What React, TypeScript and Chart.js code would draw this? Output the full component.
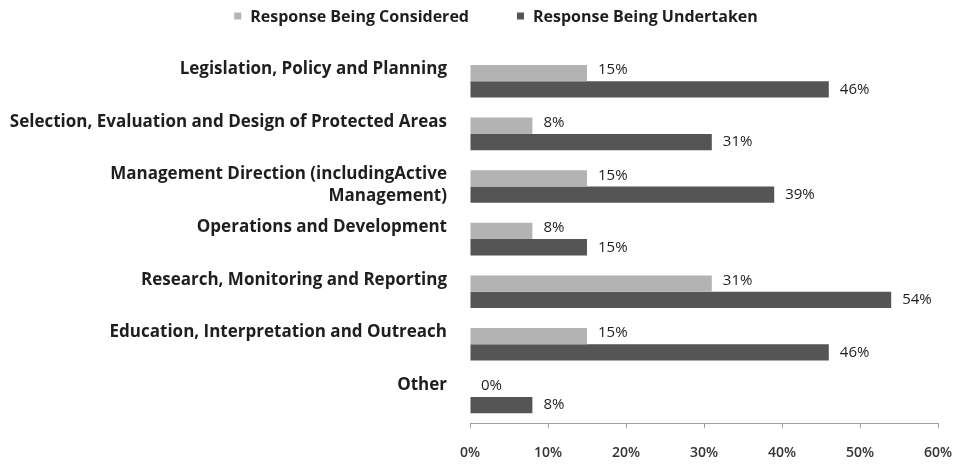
import React, { useEffect, useRef } from "react";
import { Chart, registerables } from "chart.js";

Chart.register(...registerables);

const categories: string[][] = [
  ["Legislation, Policy and Planning"],
  ["Selection, Evaluation and Design of Protected Areas"],
  ["Management Direction (includingActive", "Management)"],
  ["Operations and Development"],
  ["Research, Monitoring and Reporting"],
  ["Education, Interpretation and Outreach"],
  ["Other"],
];

const consideredValues = [15, 8, 15, 8, 31, 15, 0];
const undertakenValues = [46, 31, 39, 15, 54, 46, 8];

const seriesNames = ["Response Being Considered", "Response Being Undertaken"];
const xTicks = [0, 10, 20, 30, 40, 50, 60];

const LIGHT = "#b3b3b3";
const DARK = "#555555";
const TEXT = "#1e1e1e";
const FONT = "'Open Sans', sans-serif";

// Category names drawn to the left of the plot, first line aligned with the upper bar
const categoryLabelsPlugin = {
  id: "categoryLabels",
  afterDraw(chart: any) {
    const { ctx, chartArea, scales } = chart;
    const y = scales.y;
    ctx.save();
    ctx.font = `700 17px ${FONT}`;
    ctx.fillStyle = TEXT;
    ctx.textAlign = "right";
    ctx.textBaseline = "middle";
    categories.forEach((lines, i) => {
      const cy = y.getPixelForValue(i);
      lines.forEach((line, j) => {
        ctx.fillText(line, chartArea.left - 23, cy - 12 + j * 22);
      });
    });
    ctx.restore();
  },
};

// Value labels just past the end of each bar
const valueLabelsPlugin = {
  id: "valueLabels",
  afterDatasetsDraw(chart: any) {
    const { ctx } = chart;
    ctx.save();
    ctx.font = `400 15px ${FONT}`;
    ctx.fillStyle = TEXT;
    ctx.textAlign = "left";
    ctx.textBaseline = "middle";
    chart.data.datasets.forEach((ds: any, di: number) => {
      const meta = chart.getDatasetMeta(di);
      meta.data.forEach((el: any, i: number) => {
        const v = ds.data[i];
        ctx.fillText(`${v}%`, el.x + 11, el.y - (di === 0 ? 3 : 0));
      });
    });
    ctx.restore();
  },
};

// Legend row centred above the plot
const legendPlugin = {
  id: "topLegend",
  afterDraw(chart: any) {
    const { ctx } = chart;
    ctx.save();
    ctx.font = `700 16px ${FONT}`;
    ctx.textBaseline = "middle";
    ctx.textAlign = "left";
    const box = 7;
    const gapBox = 9;
    const gapItems = 48;
    const colors = [LIGHT, DARK];
    const widths = seriesNames.map((n) => ctx.measureText(n).width);
    const total = widths.reduce((a, w) => a + box + gapBox + w, 0) + gapItems;
    let x = 496 - total / 2;
    const y = 17;
    seriesNames.forEach((name, i) => {
      ctx.fillStyle = colors[i];
      ctx.fillRect(x, y - box / 2 - 1, box, box);
      x += box + gapBox;
      ctx.fillStyle = TEXT;
      ctx.fillText(name, x, y);
      x += widths[i] + gapItems;
    });
    ctx.restore();
  },
};

export default function App() {
  const canvasRef = useRef<HTMLCanvasElement | null>(null);

  useEffect(() => {
    if (!canvasRef.current) return;
    const chart = new Chart(canvasRef.current, {
      type: "bar",
      data: {
        labels: categories.map((c) => c.join(" ")),
        datasets: [
          {
            label: seriesNames[0],
            data: consideredValues,
            backgroundColor: LIGHT,
            categoryPercentage: 0.62,
            barPercentage: 1.0,
          },
          {
            label: seriesNames[1],
            data: undertakenValues,
            backgroundColor: DARK,
            categoryPercentage: 0.62,
            barPercentage: 1.0,
          },
        ],
      },
      options: {
        indexAxis: "y",
        responsive: false,
        animation: false,
        layout: { padding: { left: 470, right: 40, top: 55, bottom: -13 } },
        plugins: {
          legend: { display: false },
          tooltip: { enabled: false },
        },
        scales: {
          x: {
            min: 0,
            max: 60,
            afterBuildTicks: (scale: any) => {
              scale.ticks = xTicks.map((v) => ({ value: v }));
            },
            ticks: {
              callback: (v: any) => `${v}%`,
              font: { family: FONT, size: 14, weight: 600 },
              color: "#333333",
              padding: 16,
              maxRotation: 0,
            },
            grid: {
              drawOnChartArea: false,
              drawTicks: true,
              tickLength: 5,
              color: "#a0a0a0",
            },
            border: { display: true, color: "#a0a0a0", width: 1 },
          },
          y: {
            ticks: { display: false },
            grid: { display: false, drawTicks: false },
            border: { display: false },
          },
        },
      },
      plugins: [categoryLabelsPlugin, valueLabelsPlugin, legendPlugin],
    });
    return () => chart.destroy();
  }, []);

  return (
    <div style={{ position: "fixed", left: 0, top: 0, width: 978, height: 464, background: "#ffffff" }}>
      <canvas ref={canvasRef} width={978} height={464} style={{ display: "block" }} />
    </div>
  );
}
